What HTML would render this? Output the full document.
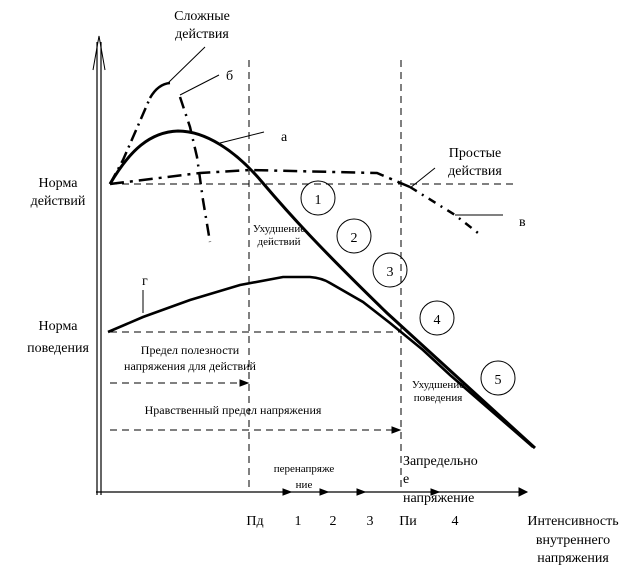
<!DOCTYPE html>
<html><head><meta charset="utf-8"><style>
html,body{margin:0;padding:0;background:#fff}
svg{display:block}
text{font-family:"Liberation Serif","DejaVu Serif",serif;fill:#000}
</style></head><body>
<svg width="637" height="568" viewBox="0 0 637 568" xmlns="http://www.w3.org/2000/svg">
<g stroke="#000" fill="none">
<line x1="97" y1="42" x2="97" y2="495" stroke-width="1.2"/>
<line x1="101" y1="42" x2="101" y2="495" stroke-width="1.2"/>
<path d="M93,70 L99,36 L105,70" stroke-width="1"/>
<line x1="96" y1="492" x2="527" y2="492" stroke-width="1.2"/>
<path d="M519,488 L527,492 L519,496z" fill="#000"/>
<path d="M283,489 L291,492 L283,495z M320,489 L328,492 L320,495z M357,489 L365,492 L357,495z M431,489 L439,492 L431,495z" fill="#000"/>
<g stroke-dasharray="7,5" stroke-width="1">
<line x1="249" y1="60" x2="249" y2="492"/>
<line x1="401" y1="60" x2="401" y2="492"/>
<line x1="110" y1="184" x2="516" y2="184"/>
<line x1="110" y1="332" x2="401" y2="332"/>
<line x1="110" y1="383" x2="240" y2="383"/>
<line x1="110" y1="430" x2="392" y2="430"/>
</g>
<path d="M240,380 L248,383 L240,386z M392,427 L400,430 L392,433z" fill="#000"/>
<path d="M110,184 C130,150 150,132 178,131 C205,131 235,150 262,182 C290,215 320,248 387,313 L535,448" stroke-width="3"/>
<path d="M108,332 L143,317 L190,300 L240,285 L283,277 L310,277 Q322,278 330,283 L363,302 L390,323 L423,350 L450,375 L533,447" stroke-width="2.6"/>
<path d="M110,184 L123,160 L137,128 L150,98" stroke-width="2.5" stroke-dasharray="12,5,2,5"/>
<path d="M150,98 Q158,84 170,83" stroke-width="2.5"/>
<path d="M180,97 L190,127 L197,157 L203,200 L210,242" stroke-width="2.5" stroke-dasharray="12,6,2,6"/>
<path d="M110,184 L200,173 L250,170 L377,173 L410,187" stroke-width="2.5" stroke-dasharray="14,6,3,6"/>
<path d="M410,187 L455,215 L478,233" stroke-width="2.5" stroke-dasharray="8,6,2,6"/>
<line x1="455" y1="215" x2="503" y2="215" stroke-width="1"/>
<line x1="205" y1="47" x2="168" y2="83" stroke-width="1"/>
<line x1="219" y1="75" x2="180" y2="95" stroke-width="1"/>
<line x1="264" y1="132" x2="220" y2="143" stroke-width="1"/>
<line x1="435" y1="168" x2="410" y2="188" stroke-width="1"/>
<line x1="143" y1="290" x2="143" y2="313" stroke-width="1"/>
<g stroke-width="1">
<circle cx="318" cy="198" r="17"/>
<circle cx="354" cy="236" r="17"/>
<circle cx="390" cy="270" r="17"/>
<circle cx="437" cy="318" r="17"/>
<circle cx="498" cy="378" r="17"/>
</g>
</g>
<g font-size="14">
<text x="318" y="204" text-anchor="middle">1</text>
<text x="354" y="242" text-anchor="middle">2</text>
<text x="390" y="276" text-anchor="middle">3</text>
<text x="437" y="324" text-anchor="middle">4</text>
<text x="498" y="384" text-anchor="middle">5</text>
<text x="202" y="20" text-anchor="middle">Сложные</text>
<text x="202" y="38" text-anchor="middle">действия</text>
<text x="226" y="80">б</text>
<text x="281" y="141">а</text>
<text x="475" y="157" text-anchor="middle">Простые</text>
<text x="475" y="175" text-anchor="middle">действия</text>
<text x="519" y="226">в</text>
<text x="142" y="285">г</text>
<text x="58" y="187" text-anchor="middle">Норма</text>
<text x="58" y="205" text-anchor="middle">действий</text>
<text x="58" y="330" text-anchor="middle">Норма</text>
<text x="58" y="352" text-anchor="middle">поведения</text>
<text x="403" y="465">Запредельно</text>
<text x="403" y="483">е</text>
<text x="403" y="502">напряжение</text>
<text x="255" y="525" text-anchor="middle">Пд</text>
<text x="298" y="525" text-anchor="middle">1</text>
<text x="333" y="525" text-anchor="middle">2</text>
<text x="370" y="525" text-anchor="middle">3</text>
<text x="408" y="525" text-anchor="middle">Пи</text>
<text x="455" y="525" text-anchor="middle">4</text>
<text x="573" y="525" text-anchor="middle">Интенсивность</text>
<text x="573" y="544" text-anchor="middle">внутреннего</text>
<text x="573" y="562" text-anchor="middle">напряжения</text>
</g>
<g font-size="11">
<text x="279" y="232" text-anchor="middle">Ухудшение</text>
<text x="279" y="245" text-anchor="middle">действий</text>
<text x="438" y="388" text-anchor="middle">Ухудшение</text>
<text x="438" y="401" text-anchor="middle">поведения</text>
<text x="304" y="472" text-anchor="middle">перенапряже</text>
<text x="304" y="488" text-anchor="middle">ние</text>
</g>
<g font-size="12">
<text x="190" y="354" text-anchor="middle">Предел полезности</text>
<text x="190" y="370" text-anchor="middle">напряжения для действий</text>
<text x="233" y="414" text-anchor="middle">Нравственный предел напряжения</text>
</g>
</svg>
</body></html>
